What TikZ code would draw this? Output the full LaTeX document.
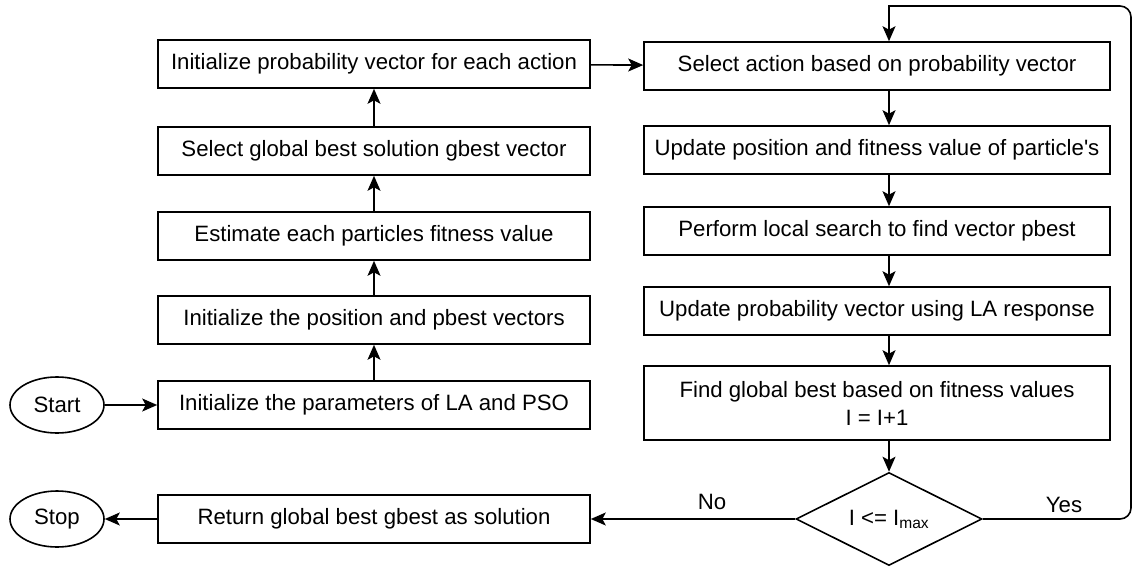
\documentclass[tikz,border=0pt]{standalone}
\usepackage{fontspec}
\setmainfont{Liberation Sans}
\usetikzlibrary{shapes.geometric,arrows.meta}
\begin{document}
\begin{tikzpicture}[x=1pt,y=-1pt,
  font=\fontsize{22.2}{26}\selectfont,
  every node/.style={inner sep=0pt},
  stepbox/.style={draw,line width=1.6pt,rectangle,align=center},
  leftbox/.style={stepbox,minimum width=432pt,minimum height=48pt},
  rightbox/.style={stepbox,minimum width=466pt,minimum height=48pt},
  terminal/.style={draw,line width=1.6pt,ellipse,minimum width=94pt,minimum height=56pt},
  decision/.style={draw,line width=1.6pt,diamond,aspect=2,minimum width=186pt,minimum height=93pt},
  flow/.style={line width=1.6pt,-{Stealth[length=15pt,width=13pt,inset=3.5pt]}},
  lbl/.style={font=\fontsize{22.2}{26}\selectfont}
]
\useasboundingbox (0,0) rectangle (1134,567);

% left column (bottom to top)
\node[terminal] (start) at (57,405) {Start};
\node[terminal] (stop) at (57,519) {Stop};
\node[leftbox] (initpar) at (374,405) {Initialize the parameters of LA and PSO};
\node[leftbox] (initpos) at (374,320) {Initialize the position and pbest vectors};
\node[leftbox] (estim) at (374,236) {Estimate each particles fitness value};
\node[leftbox] (gbest) at (374,151) {Select global best solution gbest vector};
\node[leftbox] (initprob) at (374,64) {Initialize probability vector for each action};
\node[leftbox] (ret) at (374,519) {Return global best gbest as solution};

% right column (top to bottom)
\node[rightbox] (select) at (877,66) {Select action based on probability vector};
\node[rightbox] (updpos) at (877,150) {Update position and fitness value of particle\textquotesingle s};
\node[rightbox] (local) at (877,231) {Perform local search to find vector pbest};
\node[rightbox] (updprob) at (877,311) {Update probability vector using LA response};
\node[stepbox,minimum width=466pt,minimum height=74pt] (findg) at (877,403)
  {Find global best based on fitness values\\[2pt] I = I+1};
\node[decision] (cond) at (889,519) {\raisebox{-3pt}{I <= I\textsubscript{max}}};

% connectors
\draw[flow] (start) -- (initpar);
\draw[flow] (initpar) -- (initpos);
\draw[flow] (initpos) -- (estim);
\draw[flow] (estim) -- (gbest);
\draw[flow] (gbest) -- (initprob);
\draw[flow] (initprob) -- (select);
\draw[flow] (select.south -| cond.north) -- (updpos.north -| cond.north);
\draw[flow] (updpos.south -| cond.north) -- (local.north -| cond.north);
\draw[flow] (local.south -| cond.north) -- (updprob.north -| cond.north);
\draw[flow] (updprob.south -| cond.north) -- (findg.north -| cond.north);
\draw[flow] (findg.south -| cond.north) -- (cond.north);
\draw[flow] (cond.west) -- (ret.east);
\draw[flow] (ret) -- (stop);

% loop back from the decision to the top of the right column
\coordinate (loopbr) at (1131,519);
\coordinate (looptr) at (1131,6);
\draw[flow] (cond.east) [rounded corners=11pt] -- (loopbr) -- (looptr) [sharp corners] -- (looptr -| cond.north) -- (select.north -| cond.north);

\node[lbl] (no) at (712,502) {No};
\node[lbl] (yes) at (1064,505) {Yes};
\end{tikzpicture}
\end{document}
